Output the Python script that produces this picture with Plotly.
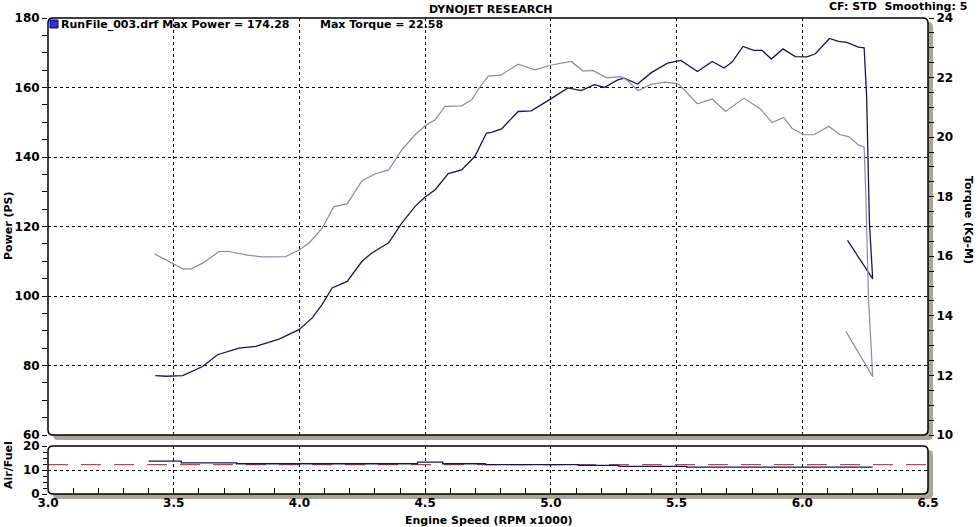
import plotly.graph_objects as go

# ---------------- data ----------------
rpm_power = [3.427, 3.47, 3.536, 3.615, 3.674, 3.76, 3.826, 3.919, 3.998, 4.051, 4.09, 4.13, 4.19, 4.249,
             4.288, 4.355, 4.407, 4.46, 4.5, 4.54, 4.592, 4.645, 4.698, 4.744, 4.764, 4.804, 4.87, 4.922,
             4.995, 5.068, 5.12, 5.173, 5.213, 5.266, 5.292, 5.345, 5.398, 5.464, 5.517, 5.583, 5.642,
             5.689, 5.721, 5.764, 5.807, 5.84, 5.877, 5.923, 5.972, 6.019, 6.052, 6.108, 6.144, 6.177,
             6.223, 6.246, 6.256, 6.267, 6.28, 6.18]
power = [77.1, 76.9, 77.1, 79.7, 83.1, 85.0, 85.5, 87.6, 90.3, 93.7, 97.5, 102.3, 104.2, 110.0,
         112.4, 115.3, 121.0, 125.8, 128.5, 130.6, 135.2, 136.3, 140.2, 146.9, 147.1, 148.1, 153.1, 153.3,
         156.5, 159.9, 159.1, 160.8, 160.0, 162.2, 162.7, 161.0, 164.2, 167.0, 167.8, 164.6, 167.5,
         165.6, 167.3, 171.8, 170.7, 170.7, 168.2, 171.1, 168.9, 168.8, 169.7, 174.1, 173.3, 173.0,
         171.6, 171.4, 157.4, 121.0, 104.9, 116.0]

rpm_torque = [3.424, 3.496, 3.536, 3.569, 3.615, 3.681, 3.721, 3.787, 3.853, 3.945, 3.998, 4.038, 4.09,
              4.137, 4.19, 4.249, 4.302, 4.355, 4.407, 4.46, 4.5, 4.54, 4.579, 4.645, 4.685, 4.711, 4.751,
              4.801, 4.87, 4.936, 5.008, 5.081, 5.128, 5.167, 5.222, 5.279, 5.305, 5.347, 5.398, 5.454,
              5.507, 5.583, 5.642, 5.695, 5.768, 5.834, 5.88, 5.926, 5.959, 6.005, 6.045, 6.105, 6.151,
              6.184, 6.223, 6.246, 6.253, 6.263, 6.28, 6.174]
torque = [16.08, 15.77, 15.58, 15.58, 15.77, 16.16, 16.16, 16.05, 15.98, 15.99, 16.21, 16.44, 16.94,
          17.67, 17.76, 18.54, 18.77, 18.90, 19.57, 20.08, 20.38, 20.58, 21.03, 21.05, 21.25, 21.60, 22.05,
          22.08, 22.45, 22.26, 22.43, 22.54, 22.22, 22.24, 21.99, 22.03, 21.90, 21.56, 21.77, 21.85,
          21.79, 21.12, 21.28, 20.86, 21.31, 20.94, 20.49, 20.66, 20.30, 20.08, 20.08, 20.36, 20.08,
          20.02, 19.74, 19.66, 18.0, 14.65, 11.96, 13.47]

rpm_afr = [3.40, 3.53, 3.75, 4.47, 4.57, 4.74, 5.11, 5.27, 5.54, 6.28]
afr = [13.7, 13.0, 12.6, 13.3, 12.6, 12.2, 11.9, 11.5, 11.2, 11.2]

rpm_afr_target = [3.0, 6.5]
afr_target = [12.2, 12.2]

x_ticks = [3.0, 3.5, 4.0, 4.5, 5.0, 5.5, 6.0, 6.5]

title_text = "DYNOJET RESEARCH"
info_text = "CF: STD  Smoothing: 5"
legend_text = "RunFile_003.drf Max Power = 174.28"
legend_text2 = "Max Torque = 22.58"

# ---------------- geometry helpers ----------------
W, H = 978, 527
L, R, T, B = 48, 928, 18, 494
PW, PH = R - L, B - T


def px(x):
    return (x - L) / PW


def py(y):
    return (B - y) / PH


def rrect(x0, y0, x1, y1, r):
    return (f"M {px(x0 + r)},{py(y0)} L {px(x1 - r)},{py(y0)} Q {px(x1)},{py(y0)} {px(x1)},{py(y0 + r)} "
            f"L {px(x1)},{py(y1 - r)} Q {px(x1)},{py(y1)} {px(x1 - r)},{py(y1)} "
            f"L {px(x0 + r)},{py(y1)} Q {px(x0)},{py(y1)} {px(x0)},{py(y1 - r)} "
            f"L {px(x0)},{py(y0 + r)} Q {px(x0)},{py(y0)} {px(x0 + r)},{py(y0)} Z")


FONT = "DejaVu Sans"
NAVY = "#15155c"
LIGHT = "#8a8aab"
SHADOW = "#a9a59a"

main_top, main_bot = 18, 435
low_top, low_bot = 446, 494

fig = go.Figure()

fig.add_trace(go.Scatter(x=rpm_torque, y=torque, mode="lines", line=dict(color=LIGHT, width=1.2),
                         xaxis="x", yaxis="y2", showlegend=False))
fig.add_trace(go.Scatter(x=rpm_power, y=power, mode="lines", line=dict(color=NAVY, width=1.3),
                         xaxis="x", yaxis="y", showlegend=False))
fig.add_trace(go.Scatter(x=rpm_afr_target, y=afr_target, mode="lines",
                         line=dict(color="#c8404a", width=1.3, dash="20px,13px"),
                         xaxis="x2", yaxis="y3", showlegend=False))
fig.add_trace(go.Scatter(x=rpm_afr, y=afr, mode="lines", line=dict(color=NAVY, width=1.3, shape="hv"),
                         xaxis="x2", yaxis="y3", showlegend=False))

tickfont = dict(family=FONT, size=12, color="black", weight="bold")
grid = dict(showgrid=True, gridcolor="black", gridwidth=1, griddash="3px,3px")

shapes = []
for (t0, b0) in [(main_top, main_bot), (low_top, low_bot)]:
    shapes.append(dict(type="path", path=rrect(L + 5, t0 + 4, R + 5, b0 + 5, 5), xref="paper", yref="paper",
                       fillcolor=SHADOW, line=dict(width=0), layer="below"))
    shapes.append(dict(type="path", path=rrect(L, t0, R, b0, 5), xref="paper", yref="paper",
                       fillcolor="white", line=dict(width=0), layer="below"))
    shapes.append(dict(type="path", path=rrect(L, t0, R, b0, 5), xref="paper", yref="paper",
                       fillcolor="rgba(0,0,0,0)", line=dict(color="black", width=1.5), layer="above"))
# legend swatch
shapes.append(dict(type="rect", x0=px(50), x1=px(58), y0=py(28), y1=py(20), xref="paper", yref="paper",
                   fillcolor="#2f2fd6", line=dict(color="#000080", width=1), layer="above"))

annotations = [
    dict(text=title_text, x=px(490), y=py(9), xref="paper", yref="paper", showarrow=False,
         font=dict(family=FONT, size=11, color="black", weight="bold"), xanchor="center", yanchor="middle"),
    dict(text=info_text, x=px(969), y=py(6), xref="paper", yref="paper", showarrow=False,
         font=dict(family=FONT, size=11, color="black", weight="bold"), xanchor="right", yanchor="middle"),
    dict(text=legend_text, x=px(59), y=py(25), xref="paper", yref="paper", showarrow=False,
         font=dict(family=FONT, size=11, color="black", weight="bold"), xanchor="left", yanchor="middle"),
    dict(text=legend_text2, x=px(318), y=py(25), xref="paper", yref="paper", showarrow=False,
         font=dict(family=FONT, size=11, color="black", weight="bold"), xanchor="left", yanchor="middle"),
    dict(text="Power (PS)", x=px(8), y=py(226), xref="paper", yref="paper", showarrow=False, textangle=-90,
         font=dict(family=FONT, size=11, color="black", weight="bold"), xanchor="center", yanchor="middle"),
    dict(text="Torque (Kg-M)", x=px(969), y=py(220), xref="paper", yref="paper", showarrow=False, textangle=90,
         font=dict(family=FONT, size=11, color="black", weight="bold"), xanchor="center", yanchor="middle"),
    dict(text="Air/Fuel", x=px(8), y=py(465), xref="paper", yref="paper", showarrow=False, textangle=-90,
         font=dict(family=FONT, size=11, color="black", weight="bold"), xanchor="center", yanchor="middle"),
    dict(text="Engine Speed (RPM x1000)", x=px(489), y=py(520), xref="paper", yref="paper", showarrow=False,
         font=dict(family=FONT, size=11, color="black", weight="bold"), xanchor="center", yanchor="middle"),
]

fig.update_layout(
    width=W, height=H,
    margin=dict(l=L, r=W - R, t=T, b=H - B),
    paper_bgcolor="white", plot_bgcolor="rgba(0,0,0,0)",
    showlegend=False,
    xaxis=dict(domain=[0, 1], anchor="y", range=[3, 6.5], tickvals=x_ticks, showticklabels=False,
               ticks="", zeroline=False, showline=False, **grid),
    xaxis2=dict(domain=[0, 1], anchor="y3", range=[3, 6.5], tickvals=x_ticks, tickformat=".1f",
                ticks="inside", ticklen=6, tickcolor="black", tickfont=tickfont,
                minor=dict(dtick=0.1, tick0=3.0, ticks="inside", ticklen=6, tickcolor="black", showgrid=False),
                zeroline=False, showline=False, **grid),
    yaxis=dict(domain=[py(main_bot), py(main_top)], anchor="x", range=[60, 180], dtick=20, tick0=60,
               ticks="outside", ticklen=5, tickcolor="black", tickfont=tickfont,
               minor=dict(dtick=5, ticks="outside", ticklen=5, tickcolor="black", showgrid=False),
               zeroline=False, showline=False, **grid),
    yaxis2=dict(overlaying="y", anchor="x", side="right", range=[10, 24], dtick=2, tick0=10,
                ticks="outside", ticklen=5, tickcolor="black", tickfont=tickfont,
                minor=dict(dtick=0.5, ticks="outside", ticklen=5, tickcolor="black", showgrid=False),
                showgrid=False, zeroline=False, showline=False),
    yaxis3=dict(domain=[0, py(low_top)], anchor="x2", range=[0, 20], dtick=10, tick0=0,
                ticks="outside", ticklen=5, tickcolor="black", tickfont=tickfont,
                minor=dict(dtick=2.5, ticks="outside", ticklen=4, tickcolor="black", showgrid=False),
                zeroline=False, showline=False, **grid),
    shapes=shapes,
    annotations=annotations,
)

fig.write_html("out.html", config={"displayModeBar": False},
               post_script="document.body.style.margin='0px';document.body.style.overflow='hidden';")
